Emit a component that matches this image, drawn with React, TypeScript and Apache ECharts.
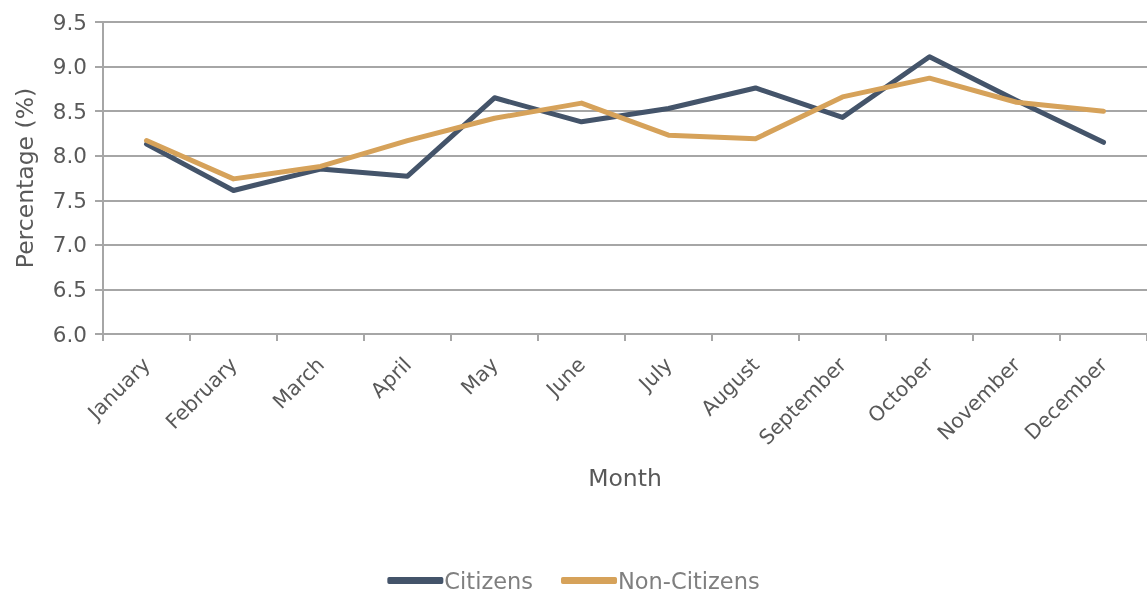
import React, { useEffect, useRef } from "react";
import * as echarts from "echarts";

const months = ["January", "February", "March", "April", "May", "June", "July", "August", "September", "October", "November", "December"];
const citizens = [8.13, 7.61, 7.85, 7.77, 8.65, 8.38, 8.53, 8.76, 8.43, 9.11, 8.62, 8.15];
const nonCitizens = [8.17, 7.74, 7.88, 8.17, 8.42, 8.59, 8.23, 8.19, 8.66, 8.87, 8.6, 8.5];

const FONT = "DejaVu Sans";

export default function App() {
  const ref = useRef<HTMLDivElement>(null);
  useEffect(() => {
    if (!ref.current) return;
    const chart = echarts.init(ref.current, undefined, { renderer: "svg" });
    chart.setOption({
      animation: false,
      textStyle: { fontFamily: FONT },
      grid: { left: 103, top: 22, width: 1048, height: 312, containLabel: false },
      legend: {
        bottom: 0,
        left: "center",
        itemWidth: 56,
        itemHeight: 7,
        itemGap: 28,
        icon: "roundRect",
        textStyle: { color: "#7f7f7f", fontSize: 22.5, fontFamily: FONT, padding: [0, 0, 0, -4] },
        data: ["Citizens", "Non-Citizens"],
      },
      xAxis: {
        type: "category",
        data: months,
        boundaryGap: true,
        name: "Month",
        nameLocation: "middle",
        nameGap: 132,
        nameTextStyle: { color: "#595959", fontSize: 23.5, fontFamily: FONT },
        axisLine: { lineStyle: { color: "#a6a6a6", width: 2 } },
        axisTick: { show: true, length: 7, lineStyle: { color: "#a6a6a6", width: 2 } },
        axisLabel: { rotate: 45, color: "#595959", fontSize: 20.5, fontFamily: FONT, margin: 27 },
      },
      yAxis: {
        type: "value",
        min: 6,
        max: 9.5,
        interval: 0.5,
        name: "Percentage (%)",
        nameLocation: "middle",
        nameGap: 66,
        nameTextStyle: { color: "#595959", fontSize: 23.5, fontFamily: FONT },
        axisLine: { show: true, lineStyle: { color: "#a6a6a6", width: 2 } },
        axisTick: { show: true, length: 8, lineStyle: { color: "#a6a6a6", width: 2 } },
        axisLabel: { color: "#595959", fontSize: 21.5, fontFamily: FONT, margin: 16, formatter: (v: number) => v.toFixed(1) },
        splitLine: { lineStyle: { color: "#a6a6a6", width: 2 } },
      },
      series: [
        {
          name: "Citizens",
          type: "line",
          data: citizens,
          symbol: "none",
          lineStyle: { color: "#44546a", width: 5, cap: "round", join: "round" },
          itemStyle: { color: "#44546a" },
        },
        {
          name: "Non-Citizens",
          type: "line",
          data: nonCitizens,
          symbol: "none",
          lineStyle: { color: "#d6a25a", width: 5, cap: "round", join: "round" },
          itemStyle: { color: "#d6a25a" },
        },
      ],
    });
    return () => chart.dispose();
  }, []);
  return <div ref={ref} style={{ position: "fixed", left: 0, top: 0, width: 1147, height: 597 }} />;
}
